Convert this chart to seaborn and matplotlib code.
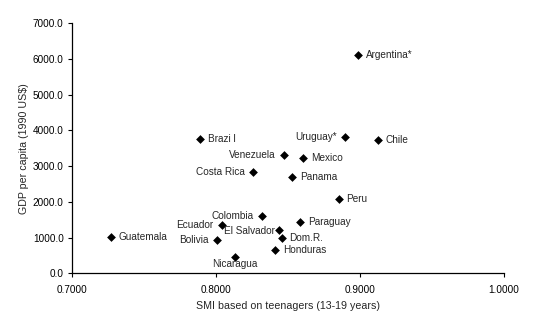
import matplotlib
matplotlib.use("Agg")
import matplotlib.pyplot as plt
import seaborn as sns
import pandas as pd
from matplotlib.ticker import FormatStrFormatter

countries = ["Argentina*", "Chile", "Uruguay*", "Brazi l", "Venezuela", "Mexico",
             "Costa Rica", "Panama", "Peru", "Colombia", "Paraguay", "Ecuador",
             "El Salvador", "Dom.R.", "Guatemala", "Bolivia", "Honduras", "Nicaragua"]
smi = [0.8986, 0.9125, 0.8898, 0.7889, 0.8472, 0.8606,
       0.8255, 0.8530, 0.8854, 0.8317, 0.8585, 0.8042,
       0.8438, 0.8456, 0.7269, 0.8009, 0.8412, 0.8130]
gdp = [6105, 3728, 3811, 3755, 3308, 3224,
       2833, 2702, 2086, 1611, 1435, 1359,
       1211, 987, 1007, 931, 660, 464]
# label placement per country: r = right, l = left, b = below
placement = ["r", "r", "l", "r", "l", "r",
             "l", "r", "r", "l", "r", "l",
             "l", "r", "r", "l", "r", "b"]

x_ticks = [0.7, 0.8, 0.9, 1.0]
y_ticks = [0, 1000, 2000, 3000, 4000, 5000, 6000, 7000]

df = pd.DataFrame({"country": countries, "smi": smi, "gdp": gdp, "pos": placement})

sns.set_style("white")
plt.rcParams["font.family"] = ["Liberation Sans", "DejaVu Sans"]

fig = plt.figure(figsize=(5.34, 3.31), dpi=100)
ax = fig.add_axes([72 / 534, 1 - 273.3 / 331, (504 - 72) / 534, (273.3 - 23) / 331])

sns.scatterplot(data=df, x="smi", y="gdp", marker="D", color="black", s=20,
                edgecolor="black", linewidth=0, ax=ax, legend=False)

fs = 7.2
for _, r in df.iterrows():
    if r["pos"] == "r":
        ax.annotate(r["country"], (r["smi"], r["gdp"]), xytext=(5.5, 0),
                    textcoords="offset points", ha="left", va="center", fontsize=fs)
    elif r["pos"] == "l":
        dy = -1 if r["country"] == "El Salvador" else 0
        dx = -3 if r["country"] == "El Salvador" else -6
        ax.annotate(r["country"], (r["smi"], r["gdp"]), xytext=(dx, dy),
                    textcoords="offset points", ha="right", va="center", fontsize=fs)
    else:
        ax.annotate(r["country"], (r["smi"], r["gdp"]), xytext=(0, -5),
                    textcoords="offset points", ha="center", va="center", fontsize=fs)

ax.set_xlim(0.7, 1.0)
ax.set_ylim(0, 7000)
ax.set_xticks(x_ticks)
ax.set_yticks(y_ticks)
ax.xaxis.set_major_formatter(FormatStrFormatter("%.4f"))
ax.yaxis.set_major_formatter(FormatStrFormatter("%.1f"))
ax.tick_params(axis="both", direction="out", length=3, width=0.8, labelsize=fs,
               colors="black", bottom=True, left=True, pad=3)
ax.tick_params(axis="x", pad=5.5)
for side in ["top", "right"]:
    ax.spines[side].set_visible(False)
for side in ["left", "bottom"]:
    ax.spines[side].set_color("black")
    ax.spines[side].set_linewidth(0.9)

ax.set_xlabel("SMI based on teenagers (13-19 years)", fontsize=7.7, labelpad=4)
ax.set_ylabel("GDP per capita (1990 US$)", fontsize=7.7, labelpad=3)

fig.savefig("out.png", dpi=100)
